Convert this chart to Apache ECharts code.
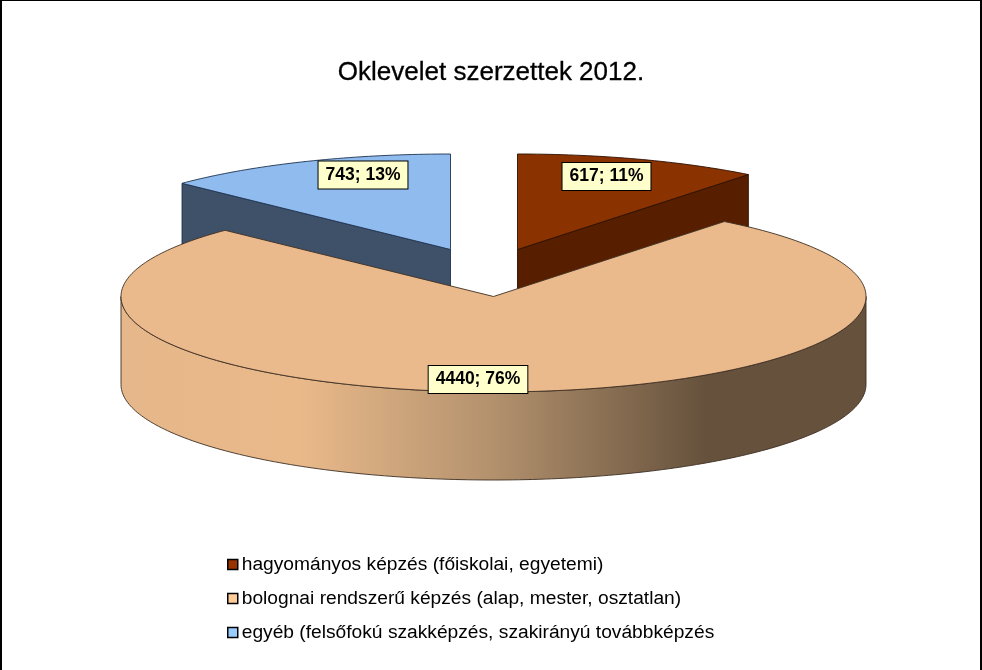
<!DOCTYPE html>
<html><head><meta charset="utf-8">
<style>html,body{margin:0;padding:0;background:#fff}#c{width:982px;height:670px}</style>
<script src="https://cdn.jsdelivr.net/npm/echarts@6/dist/echarts.min.js"></script>
</head><body><div id="c"></div>
<script>
var categories = ['hagyományos képzés (főiskolai, egyetemi)','bolognai rendszerű képzés (alap, mester, osztatlan)','egyéb (felsőfokú szakképzés, szakirányú továbbképzés'];
var values = [617, 4440, 743];
var percents = [11, 76, 13];
var title = 'Oklevelet szerzettek 2012.';

var topColors = ['#8B3300','#EAB98C','#8FBBEE'];
var sideColors = ['#571F00','#EAB98C','#3F5168'];
var edgeColors = ['#2E1000','#3D2F22','#1F3350'];
var swatchColors = ['#993300','#FFCC99','#99CCFF'];
var offsets = [[24,-47],[0,0],[-43,-47]];
var labelCenters = [[606.5,176.5],[478,379.5],[363,175]];
var CX=493.5, CY=296.5, RX=372.5, RY=95.5, DEPTH=88;

var total = values.reduce(function(a,b){return a+b;},0);
function pt(cx,cy,deg){var a=deg*Math.PI/180;return [cx+RX*Math.sin(a),cy-RY*Math.cos(a)];}
function arc(cx,cy,a0,a1,dy){var o=[],n=Math.max(2,Math.ceil(Math.abs(a1-a0)));for(var i=0;i<=n;i++){var p=pt(cx,cy,a0+(a1-a0)*i/n);o.push([p[0],p[1]+(dy||0)]);}return o;}
function poly(points,fill,stroke,w){return {type:'polygon',shape:{points:points},style:{fill:fill,stroke:stroke,lineWidth:w,lineJoin:'round'}};}

function sliceRender(idx){return function(params,api){
  var v=api.value(0), start=0; for(var i=0;i<idx;i++) start+=values[i];
  var a0=start/total*360, a1=(start+v)/total*360;
  var cx=CX+offsets[idx][0], cy=CY+offsets[idx][1], kids=[];
  var c=[cx,cy], pa=pt(cx,cy,a0), pb=pt(cx,cy,a1);
  if(idx===1){
    var low=arc(cx,cy,90,270,0), up=arc(cx,cy,270,90,DEPTH);
    kids.push(poly(low.concat(up),{type:'linear',x:121,y:0,x2:866,y2:0,global:true,colorStops:[
      {offset:0,color:'#E6B78A'},{offset:0.24,color:'#E9B98A'},{offset:0.495,color:'#B4926E'},{offset:0.787,color:'#65513C'},{offset:1,color:'#65513C'}]},edgeColors[1],0.9));
  } else if(idx===0){
    kids.push(poly([c,pb,[pb[0],pb[1]+DEPTH],[c[0],c[1]+DEPTH]],sideColors[0],edgeColors[0],0.9));
  } else {
    kids.push(poly([c,pa,[pa[0],pa[1]+DEPTH],[c[0],c[1]+DEPTH]],sideColors[2],edgeColors[2],0.9));
  }
  kids.push(poly([c].concat(arc(cx,cy,a0,a1,0)),topColors[idx],edgeColors[idx],0.9));
  kids.push({type:'text',z2:50,x:labelCenters[idx][0],y:labelCenters[idx][1],style:{
    text:v+'; '+percents[idx]+'%',fill:'#000',font:'bold 17.5px "Liberation Sans"',align:'center',verticalAlign:'middle',
    backgroundColor:'#FFFFCC',borderColor:'#000',borderWidth:1,padding:[5,7,4,7]}});
  return {type:'group',children:kids};
};}

// draw order: back slices first, big front slice over them
var drawOrder=[2,0,1];
var series=drawOrder.map(function(idx,k){return {
  type:'custom',name:categories[idx],coordinateSystem:'none',z:2+k,silent:true,animation:false,
  data:[[values[idx]]],renderItem:sliceRender(idx),itemStyle:{color:swatchColors[idx]}
};});

var chart=echarts.init(document.getElementById('c'),null,{renderer:'canvas'});
chart.setOption({
  animation:false,backgroundColor:'#fff',
  title:{text:title,left:486,top:55,textAlign:'center',textStyle:{fontFamily:'Liberation Sans',fontSize:26,fontWeight:'normal',color:'#000',textBorderColor:'#000',textBorderWidth:0.3}},
  legend:{orient:'vertical',left:227,top:555,padding:0,itemWidth:10,itemHeight:10,itemGap:15,selectedMode:false,
    icon:'rect',textStyle:{fontFamily:'Liberation Sans',fontSize:19.2,color:'#000',padding:[0,0,0,-1]},
    data:categories.map(function(n,i){return {name:n,icon:'rect',itemStyle:{color:swatchColors[i],borderColor:'#000',borderWidth:1.5}};})},
  graphic:[
    {type:'rect',shape:{x:0,y:0,width:982,height:1},style:{fill:'#000'},silent:true},
    {type:'rect',shape:{x:0,y:0,width:2,height:670},style:{fill:'#000'},silent:true},
    {type:'rect',shape:{x:980,y:0,width:2,height:670},style:{fill:'#000'},silent:true}
  ],
  series:series
});
</script></body></html>
